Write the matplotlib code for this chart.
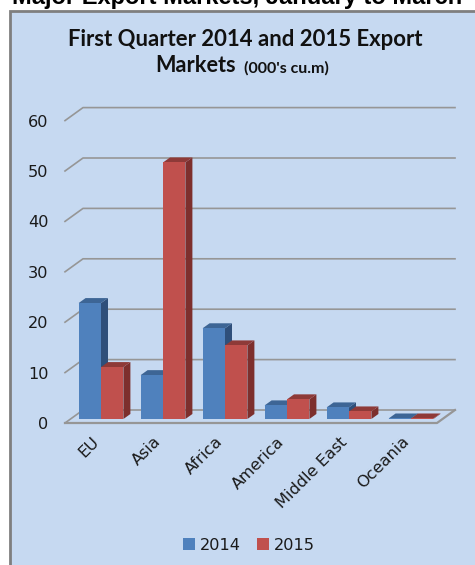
import matplotlib
matplotlib.use("Agg")
import matplotlib.pyplot as plt
from matplotlib.patches import Polygon, Rectangle, Patch
from matplotlib.transforms import ScaledTranslation

markets = ["EU", "Asia", "Africa", "America", "Middle East", "Oceania"]
exports_2014 = [23.0, 8.7, 18.0, 2.7, 2.3, 0.1]
exports_2015 = [10.3, 50.9, 14.6, 3.9, 1.5, 0.1]
y_ticks = [0, 10, 20, 30, 40, 50, 60]

W, H = 475, 565
PX_X = 1 / 62.0      # one pixel in category units
PX_Y = 60 / 302.4    # one pixel in value units

GRID = "#969696"
PANEL = "#c6d9f1"


def bar3d(ax, left, width, value, front, top, side):
    # front plane sits a little inside the floor, bar has a short depth
    x0 = left + 5 * PX_X
    x1 = x0 + width
    y0 = 4 * PX_Y
    y1 = y0 + value
    dx = 7 * PX_X
    dy = 5 * PX_Y
    ax.add_patch(Polygon([(x1, y0), (x1 + dx, y0 + dy), (x1 + dx, y1 + dy), (x1, y1)],
                         fc=side, ec="none", clip_on=False, zorder=3))
    ax.add_patch(Polygon([(x0, y1), (x1, y1), (x1 + dx, y1 + dy), (x0 + dx, y1 + dy)],
                         fc=top, ec="none", clip_on=False, zorder=3))
    ax.add_patch(Rectangle((x0, y0), width, value, fc=front, ec="none", clip_on=False, zorder=4))


fig = plt.figure(figsize=(W / 100, H / 100), dpi=100, facecolor="white")

fig.add_artist(Rectangle((9.5 / W, -0.01), 1.0, 1.01 - 10.5 / H, transform=fig.transFigure,
                         fc=PANEL, ec="#7f7f7f", lw=2, zorder=-1))

fig.text(237 / W, 1 - 4 / H, "Major Export Markets, January to March", ha="center", va="baseline",
         family="Liberation Sans", weight="bold", fontsize=17, color="black")

ax = fig.add_axes([65 / W, 1 - 423 / H, 372 / W, 302.4 / H])
ax.set_xlim(-0.5, 5.5)
ax.set_ylim(0, 60)
ax.patch.set_visible(False)
for s in ax.spines.values():
    s.set_visible(False)

# walls and floor
depth_x = 18 * PX_X
depth_y = 13 * PX_Y
for v in y_ticks:
    ax.plot([-0.5, -0.5 + depth_x, 5.5 + depth_x], [v, v + depth_y, v + depth_y],
            color=GRID, lw=1.2, clip_on=False, zorder=1)
ax.plot([-0.5, 5.5, 5.5 + depth_x], [0, 0, depth_y], color=GRID, lw=1.6, clip_on=False, zorder=2)

bar_w = 22.4 * PX_X
for i, (a, b) in enumerate(zip(exports_2014, exports_2015)):
    bar3d(ax, i - bar_w, bar_w, a, "#4f81bd", "#3d6595", "#2f4f7a")
    bar3d(ax, i, bar_w, b, "#c0504d", "#8e3a38", "#7d2f2d")

ax.set_yticks(y_ticks)
ax.set_xticks(range(len(markets)))
ax.set_xticklabels(markets, rotation=45, ha="right", rotation_mode="anchor")
ax.tick_params(axis="both", length=0, labelsize=11.6, labelcolor="#1a1a1a")
ax.tick_params(axis="x", pad=8)
ax.tick_params(axis="y", pad=12)
for lab in ax.get_xticklabels():
    lab.set_transform(lab.get_transform() + ScaledTranslation(-5 / 100, 0, fig.dpi_scale_trans))

fig.text(245 / W, 1 - 39 / H, "First Quarter 2014 and 2015 Export", ha="center", va="center",
         family="Lato", weight="bold", fontsize=15.9, color="#111111")
fig.text(155 / W, 1 - 66 / H, "Markets", ha="left", va="center",
         family="Lato", weight="bold", fontsize=15.6, color="#111111")
fig.text(244 / W, 1 - 68 / H, "(000's cu.m)", ha="left", va="center",
         family="Lato", weight="bold", fontsize=11.5, color="#111111")

handles = [Patch(fc="#4f81bd", label="2014"), Patch(fc="#c0504d", label="2015")]
fig.legend(handles=handles, loc="center", bbox_to_anchor=(249 / W, 1 - 545 / H), ncol=2,
           frameon=False, fontsize=11.6, handlelength=0.75, handleheight=0.75,
           handletextpad=0.3, columnspacing=1.0, labelcolor="#1a1a1a")

fig.savefig("out.png", dpi=100)
